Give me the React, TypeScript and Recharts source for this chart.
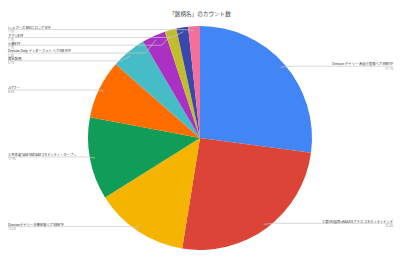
import { PieChart, Pie, Cell } from "recharts"

const NAMES = [
  "Direxion デイリー 米国小型株ベア3倍ETF",
  "三菱UFJ国際-eMAXISプラス コモディティインデ",
  "Direxionデイリー半導体株ベア3倍ETF",
  "三井住友TAM-SMTAMコモディティ・オープン",
  "Jパワー",
  "商社銘柄",
  "Direxion Daily インターネット ベア3倍 ETF",
  "小麦ETF",
  "アグリETF",
  "iシェアーズ MSCI ロシア ETF",
]
const COUNTS = [16, 15, 8, 7, 5, 3, 2, 1, 1, 1]
const COLORS = [
  "#4285f4", "#db4437", "#f4b400", "#0f9d58", "#ff6d00",
  "#46bdc6", "#ab30c4", "#c2bd2c", "#3949ab", "#f56f9a",
]

const W = 400
const H = 257
const CX = 200
const CY = 138
const R = 112
const RAD = Math.PI / 180
const ANCHOR = 0.96
const GAP = 7.8
const FONT = "Roboto, 'Noto Sans CJK JP', sans-serif"

const data = NAMES.map((name, i) => ({ name, value: COUNTS[i] }))

// label rows: start at the slice anchor, pushed down so they don't overlap
function labelRows() {
  const total = COUNTS.reduce((s, v) => s + v, 0)
  let acc = 0
  const rows = COUNTS.map((v, i) => {
    const mid = 90 - ((acc + v / 2) / total) * 360
    acc += v
    const x = CX + R * ANCHOR * Math.cos(mid * RAD)
    const y = CY - R * ANCHOR * Math.sin(mid * RAD)
    return { i, y, left: x < CX }
  })
  const ys = rows.map(r => r.y)
  for (const side of [true, false]) {
    const list = rows.filter(r => r.left === side).sort((a, b) => a.y - b.y)
    let prev = -Infinity
    for (const r of list) {
      const y = Math.max(r.y - 1, prev + GAP)
      ys[r.i] = y
      prev = y
    }
  }
  return ys
}
const LABEL_Y = labelRows()

function renderLabel(p: any) {
  const { cx, cy, midAngle, outerRadius, index, percent } = p
  const ax = cx + outerRadius * ANCHOR * Math.cos(-midAngle * RAD)
  const ay = cy + outerRadius * ANCHOR * Math.sin(-midAngle * RAD)
  const ly = LABEL_Y[index]
  const left = ax < cx
  const edge = left ? 8 : 393
  const elbow = left ? ax - 10 : ax + 10
  const anchor = left ? "start" : "end"
  return (
    <g key={`lbl-${index}`}>
      <polyline
        points={`${edge},${ly} ${elbow},${ly} ${ax},${ay}`}
        fill="none" stroke="#c6c6c6" strokeWidth={0.7}
      />
      <circle cx={ax} cy={ay} r={0.7} fill="#999" />
      <text x={edge} y={ly - 0.7} textAnchor={anchor} fontSize={3.3} fill="#333" fontFamily={FONT}>
        {NAMES[index]}
      </text>
      <text x={edge} y={ly + 3.5} textAnchor={anchor} fontSize={2.9} fill="#999" fontFamily={FONT}>
        {(percent * 100).toFixed(1)}%
      </text>
    </g>
  )
}

export default function App() {
  return (
    <div style={{ position: "relative", width: W, height: H, background: "#fff" }}>
      <style>{"body{margin:0}"}</style>
      <div style={{
        position: "absolute", top: 10, left: 0, width: W, textAlign: "center",
        fontSize: 5.6, color: "#444", fontFamily: FONT,
      }}>
        「銘柄名」のカウント数
      </div>
      <PieChart width={W} height={H} margin={{ top: 0, right: 0, bottom: 0, left: 0 }}>
        <Pie
          data={data}
          dataKey="value"
          nameKey="name"
          cx={CX}
          cy={CY}
          outerRadius={R}
          startAngle={90}
          endAngle={-270}
          stroke="none"
          label={renderLabel}
          labelLine={false}
          isAnimationActive={false}
        >
          {data.map((d, i) => <Cell key={d.name} fill={COLORS[i]} />)}
        </Pie>
      </PieChart>
    </div>
  )
}
